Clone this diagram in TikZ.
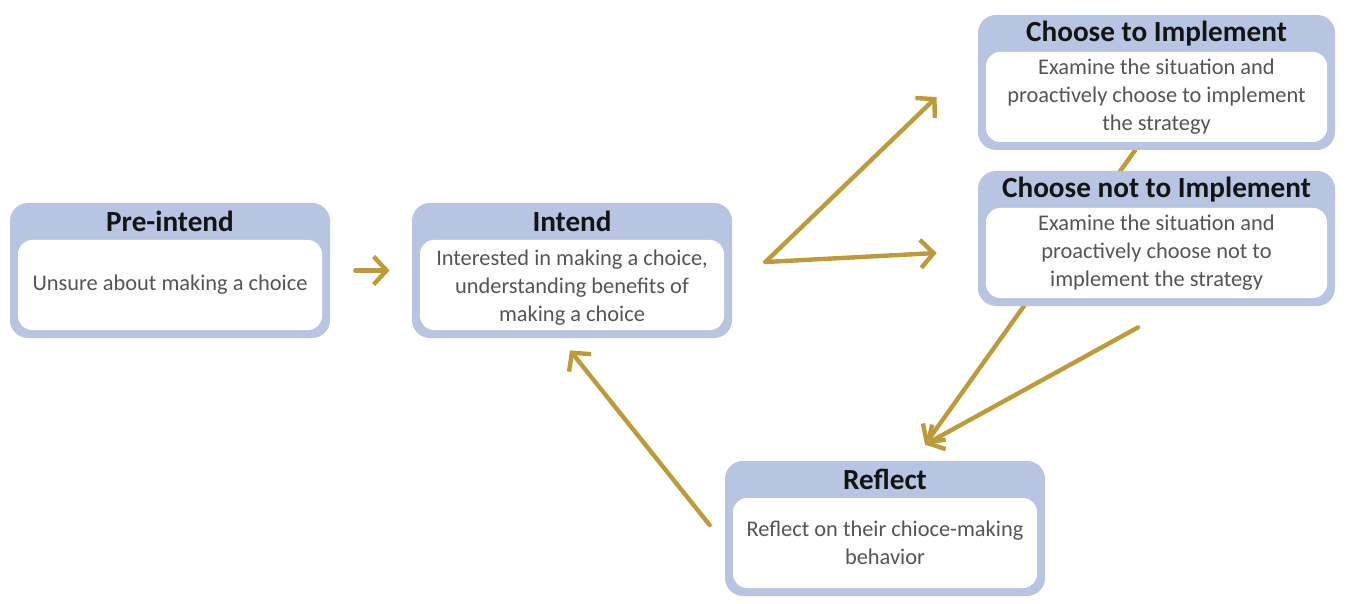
\documentclass[tikz,border=0pt]{standalone}
\usepackage{fontspec}
\setmainfont{Carlito}
\usetikzlibrary{arrows.meta, positioning, calc, backgrounds}
\definecolor{bandblue}{RGB}{183,196,226}
\definecolor{flowgold}{RGB}{191,154,58}
\definecolor{bodygray}{RGB}{85,85,85}

\begin{document}
\begin{tikzpicture}[
    x=0.5pt, y=-0.5pt,
    %% -- Node styles ------------------------------------------------------
    %%
    %% stage: the blue band round each step (title sits in its top strip).
    stage/.style={
        fill=bandblue,
        rounded corners=9pt,
        minimum width=160pt,
        minimum height=67.5pt,
        inner sep=0pt,
    },
    widestage/.style={stage, minimum width=178.5pt},
    %% stagebody: white panel with the description, set inside the band.
    stagebody/.style={
        fill=white,
        rounded corners=7pt,
        minimum width=152pt,
        minimum height=45pt,
        inner sep=0pt,
        align=center,
        text=bodygray,
        font=\fontsize{11.2}{14}\selectfont,
    },
    widebody/.style={stagebody, minimum width=170.5pt},
    stagetitle/.style={font=\fontsize{14.6}{17}\selectfont\bfseries, text=black!92, inner sep=0pt},
    %% -- Connector style ---------------------------------------------------
    flow/.style={
        -{Straight Barb[length=6.5pt, width=14pt]},
        draw=flowgold,
        line width=2.2pt,
        line cap=round,
    },
]
\useasboundingbox (0,0) rectangle (1354,604);

%% -- Stages ---------------------------------------------------------------

\node[stage] (Pre_Intend) at (170,270.5) {};
\node[stagebody, above=4pt of Pre_Intend.south] (Pre_Intend_Text) {Unsure about making a choice};
\node[stagetitle] (Pre_Intend_Title) at ($(Pre_Intend.north)+(0,19)$) {Pre-intend};

\node[stage] (Intend) at (572,270.5) {};
\node[stagebody, above=4pt of Intend.south] (Intend_Text) {\\[-4pt]Interested in making a choice,\\ understanding benefits of\\ making a choice};
\node[stagetitle] (Intend_Title) at ($(Intend.north)+(0,19)$) {Intend};

\node[widestage] (Choose_Impl) at (1156.5,82.5) {};
\node[widebody, above=4pt of Choose_Impl.south] (Choose_Impl_Text) {Examine the situation and\\ proactively choose to implement\\ the strategy};
\node[stagetitle] (Choose_Impl_Title) at ($(Choose_Impl.north)+(0,19)$) {Choose to Implement};

\node[widestage] (Not_Impl) at (1156.5,238.5) {};
\node[widebody, above=4pt of Not_Impl.south] (Not_Impl_Text) {Examine the situation and\\ proactively choose not to\\ implement the strategy};
\node[stagetitle] (Not_Impl_Title) at ($(Not_Impl.north)+(0,19)$) {Choose not to Implement};

\node[stage] (Reflect) at (885,528.5) {};
\node[stagebody, above=4pt of Reflect.south] (Reflect_Text) {Reflect on their chioce-making\\ behavior};
\node[stagetitle] (Reflect_Title) at ($(Reflect.north)+(0,19)$) {Reflect};

%% -- Connectors -----------------------------------------------------------

\coordinate (Fork) at ($(Intend.east)+(33,-8.5)$);

\draw[flow, shorten <=12.5pt, shorten >=11pt] (Pre_Intend.east) -- (Intend.west);
\draw[flow] (Fork) -- ($(Choose_Impl.west)+(-41,14.5)$);
\draw[flow] (Fork) -- ($(Not_Impl.west)+(-41,14.5)$);

% runs behind the "not" box
\begin{scope}[on background layer]
\draw[flow] ($(Choose_Impl.south)+(-21.5,0)$) -- ($(Reflect.north)+(40,-16)$);
\end{scope}
\draw[flow] ($(Not_Impl.south)+(-18.5,21)$) -- ($(Reflect.north)+(40,-16)$);
\draw[flow] ($(Reflect.west)+(-15,-3.5)$) -- ($(Intend.south)+(-2,12)$);

\end{tikzpicture}
\end{document}
